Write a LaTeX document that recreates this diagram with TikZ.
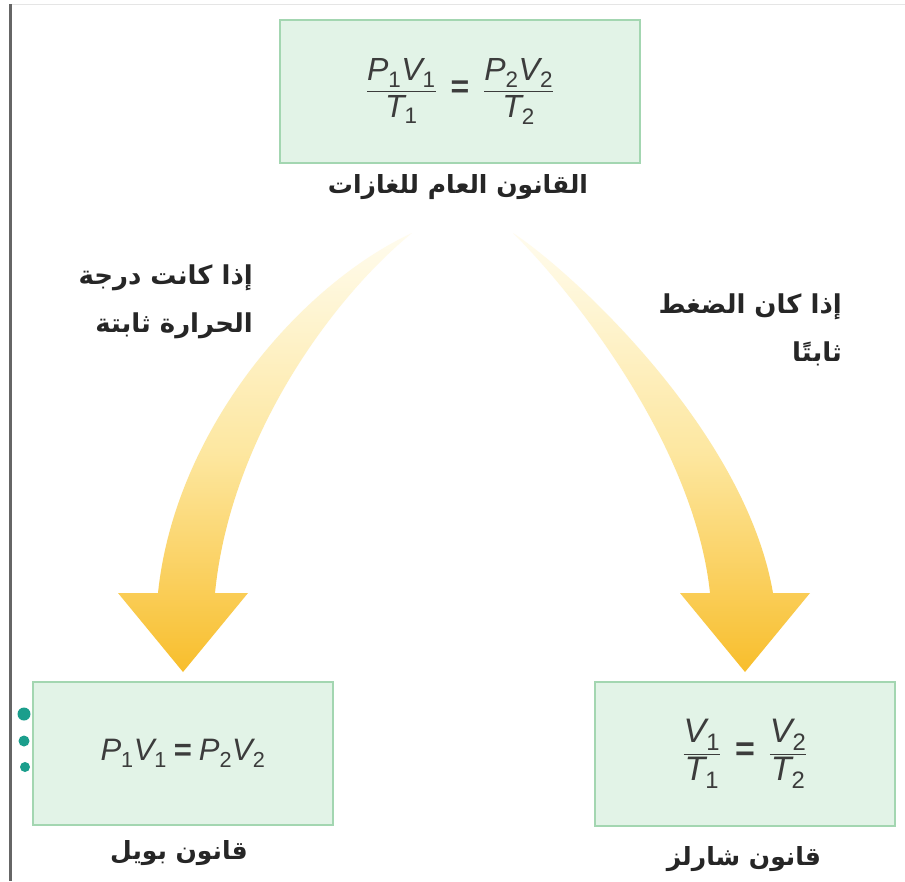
\documentclass[tikz,border=0pt]{standalone}
\usepackage{amsmath}
\usepackage{fontspec}
\setmainfont{Liberation Sans}
\newfontfamily\arabicfont[Script=Arabic]{DejaVu Sans}
\TeXXeTstate=1
\usetikzlibrary{calc}
\definecolor{boxfill}{HTML}{E2F3E7}
\definecolor{boxline}{HTML}{A3D6B1}
\definecolor{arrowtop}{HTML}{FFFCEE}
\definecolor{arrowmid}{HTML}{FDE7A0}
\definecolor{arrowbot}{HTML}{F8BE2C}
\definecolor{dotteal}{HTML}{1B9E8C}
\definecolor{txt}{HTML}{262626}
\definecolor{eqtxt}{HTML}{3C3C3C}
\newcommand\ar[1]{{\arabicfont\bfseries\beginR #1\endR}}
\newcommand\mv[1]{\textit{#1}}
\newcommand\sbs[1]{_{\text{#1}}}
\newcommand\eqs{\mathrel{\text{\bfseries =}}}
\newcommand\feqs{\;\mathrel{\text{\bfseries =}}\;}
\tikzset{
  lawbox/.style={draw=boxline, fill=boxfill, line width=2pt, inner sep=0pt, text=eqtxt,
    font=\fontsize{32}{36}\selectfont},
  lawlabel/.style={text=txt, font=\fontsize{25}{30}\selectfont, inner sep=0pt},
  condlabel/.style={text=txt, font=\fontsize{26}{48}\selectfont, inner sep=0pt, align=right, anchor=east},
  bigarrow/.style={top color=arrowtop, bottom color=arrowbot, middle color=arrowmid, draw=none}
}
\begin{document}
\begin{tikzpicture}[x=1pt,y=-1pt]
\useasboundingbox (0,0) rectangle (905,881);
\fill[white] (0,0) rectangle (905,881);
% frame edges of the page
\draw[gray!20, line width=1.5pt] (10,4.5) -- (905,4.5);
\draw[gray!80!black, line width=3pt] (10,4) -- (10,881);

% boxes
\node[lawbox, minimum width=360pt, minimum height=143pt] (gen) at (460,91.5)
  {$\displaystyle\frac{\mv{P}\sbs{1}\mv{V}\sbs{1}}{\mv{T}\sbs{1}}\feqs\frac{\mv{P}\sbs{2}\mv{V}\sbs{2}}{\mv{T}\sbs{2}}$};
\node[lawbox, minimum width=300pt, minimum height=143pt, font=\fontsize{31}{34}\selectfont] (boyle) at (183,753.5)
  {$\mv{P}\sbs{1}\mv{V}\sbs{1}\eqs\mv{P}\sbs{2}\mv{V}\sbs{2}$};
\node[lawbox, minimum width=300pt, minimum height=144pt, font=\fontsize{34}{38}\selectfont] (charles) at (745,754)
  {$\displaystyle\frac{\mv{V}\sbs{1}}{\mv{T}\sbs{1}}\feqs\frac{\mv{V}\sbs{2}}{\mv{T}\sbs{2}}$};

% labels under boxes
\node[lawlabel] (genlab) at (458,187) {\ar{القانون العام للغازات}};
\node[lawlabel] (boylelab) at (179,853) {\ar{قانون بويل}};
\node[lawlabel] (charleslab) at (744,859) {\ar{قانون شارلز}};

% conditions
\node[condlabel] (condT) at (253,302) {\ar{إذا كانت درجة}\\\ar{الحرارة ثابتة}};
\node[condlabel] (condP) at (842,330) {\ar{إذا كان الضغط}\\\ar{ثابتًا}};

% curved arrows
\coordinate (ltop) at ($(gen.south)+(-48,69)$);
\coordinate (ltip) at ($(boyle.north)+(0,-9)$);
\shade[bigarrow] (ltop) .. controls (300,285) and (175,430) .. (158,593)
  -- (118,593) -- (ltip) -- (248,593) -- (215,593)
  .. controls (230,440) and (330,300) .. (ltop) -- cycle;
\coordinate (rtop) at ($(gen.south)+(53,69)$);
\coordinate (rtip) at ($(charles.north)+(0,-9)$);
\shade[bigarrow] (rtop) .. controls (570,270) and (745,430) .. (773,593)
  -- (810,593) -- (rtip) -- (680,593) -- (710,593)
  .. controls (695,450) and (580,300) .. (rtop) -- cycle;

% teal dots at the left edge
\fill[dotteal] (24,714) circle (6.5pt);
\fill[dotteal] (24,741) circle (5.5pt);
\fill[dotteal] (25,767) circle (5pt);
\end{tikzpicture}
\end{document}
